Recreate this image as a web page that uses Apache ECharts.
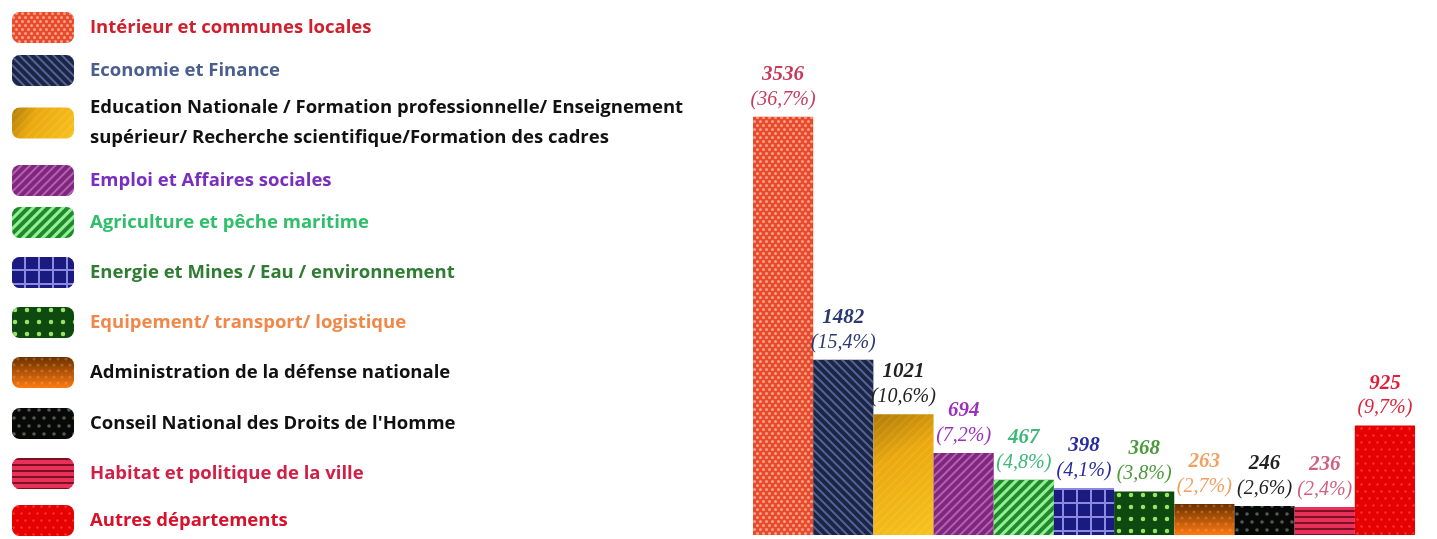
<!DOCTYPE html>
<html>
<head>
<meta charset="utf-8">
<script src="https://cdn.jsdelivr.net/npm/echarts@6/dist/echarts.min.js"></script>
<style>
html,body{margin:0;padding:0;background:#fff;}
#chart{width:1437px;height:539px;}
</style>
</head>
<body>
<div id="chart"></div>
<script>
const categories = [
  'Intérieur et communes locales',
  'Economie et Finance',
  'Education Nationale / Formation professionnelle/ Enseignement\nsupérieur/ Recherche scientifique/Formation des cadres',
  'Emploi et Affaires sociales',
  'Agriculture et pêche maritime',
  'Energie et Mines / Eau / environnement',
  'Equipement/ transport/ logistique',
  'Administration de la défense nationale',
  'Conseil National des Droits de l\'Homme',
  'Habitat et politique de la ville',
  'Autres départements'
];
const values = [3536, 1482, 1021, 694, 467, 398, 368, 263, 246, 236, 925];
const percents = ['36,7%', '15,4%', '10,6%', '7,2%', '4,8%', '4,1%', '3,8%', '2,7%', '2,6%', '2,4%', '9,7%'];

const legendTextColors = ['#d0202e', '#4a5f8f', '#111111', '#7a2ec0', '#2fbf6a', '#2e7d32', '#f0884a', '#111111', '#111111', '#d02048', '#d8102a'];
const labelColors = ['#c83a5c', '#2b3a70', '#222222', '#9a30c0', '#3cb878', '#2a2aa0', '#4a9a3a', '#f0a060', '#222222', '#d06080', '#e0203a'];
const legendTops = [12, 55, 93, 165, 207, 257, 307, 357, 408, 458, 505];

const P = Math.PI / 4;
const styles = [
  { color: '#e84a2c', decal: { symbol: 'circle', symbolSize: 1, color: 'rgba(255,205,185,0.65)', dashArrayX: [[3, 3], [0, 3, 3, 0]], dashArrayY: [3, 1] } },
  { color: '#1c2644', decal: { symbol: 'rect', symbolSize: 1, color: 'rgba(120,140,210,0.6)', rotation: P, dashArrayX: [1, 0], dashArrayY: [2, 4] } },
  { color: { type: 'linear', x: 0, y: 0, x2: 1, y2: 1, colorStops: [{ offset: 0, color: '#b07a05' }, { offset: 0.35, color: '#eaa80e' }, { offset: 1, color: '#f7c21c' }] },
    decal: { symbol: 'rect', symbolSize: 1, color: 'rgba(255,255,255,0.08)', rotation: -P, dashArrayX: [1, 0], dashArrayY: [2, 4] } },
  { color: '#7a2a7a', decal: { symbol: 'rect', symbolSize: 1, color: 'rgba(235,120,220,0.6)', rotation: -P, dashArrayX: [1, 0], dashArrayY: [2, 4] } },
  { color: '#1f8a2a', decal: { symbol: 'rect', symbolSize: 1, color: 'rgba(170,255,170,0.85)', rotation: -P, dashArrayX: [1, 0], dashArrayY: [3, 4] } },
  { color: '#8a8ae0', decal: { symbol: 'rect', symbolSize: 1, color: '#1a1a80', dashArrayX: [12, 2], dashArrayY: [12, 2] } },
  { color: '#0e4a10', decal: { symbol: 'circle', symbolSize: 0.75, color: '#9be26b', dashArrayX: [6, 6], dashArrayY: [6, 6] } },
  { color: { type: 'linear', x: 0, y: 0, x2: 0, y2: 1, colorStops: [{ offset: 0, color: '#6a3000' }, { offset: 1, color: '#ff7a10' }] },
    decal: { symbol: 'circle', symbolSize: 0.8, color: 'rgba(255,200,120,0.25)', dashArrayX: [[4, 4], [0, 4, 4, 0]], dashArrayY: [4, 2] } },
  { color: '#080808', decal: { symbol: 'circle', symbolSize: 0.9, color: 'rgba(110,130,110,0.7)', dashArrayX: [[4, 6], [0, 5, 4, 1]], dashArrayY: [4, 4] } },
  { color: '#e8305a', decal: { symbol: 'rect', symbolSize: 1, color: '#7a1020', dashArrayX: [1, 0], dashArrayY: [2, 4] } },
  { color: '#e60000', decal: { symbol: 'circle', symbolSize: 0.8, color: 'rgba(255,110,110,0.5)', dashArrayX: [[3, 5], [0, 4, 3, 1]], dashArrayY: [3, 4] } }
];

const series = categories.map((name, i) => ({
  name: name,
  type: 'bar',
  stack: 'all',
  barCategoryGap: '0%',
  data: values.map((v, j) => (j === i ? v : '-')),
  itemStyle: Object.assign({ borderRadius: 0 }, styles[i]),
  label: {
    show: true,
    position: 'top',
    distance: 5,
    align: 'center',
    formatter: () => '{v|' + values[i] + '}\n{p|(' + percents[i] + ')}',
    rich: {
      v: { fontFamily: 'Liberation Serif', fontStyle: 'italic', fontWeight: 'bold', fontSize: 21, lineHeight: 25, color: labelColors[i], align: 'center' },
      p: { fontFamily: 'Liberation Serif', fontStyle: 'italic', fontWeight: 'normal', fontSize: 20, lineHeight: 25, color: labelColors[i], align: 'center' }
    }
  },
  emphasis: { disabled: true }
}));

const legends = categories.map((name, i) => ({
  data: [{ name: name, textStyle: { color: legendTextColors[i] } }],
  left: 12,
  top: legendTops[i],
  orient: 'vertical',
  icon: 'roundRect',
  itemWidth: 62,
  itemHeight: 31,
  padding: 0,
  selectedMode: false,
  textStyle: { fontFamily: 'Open Sans', fontWeight: 700, fontSize: 18.5, lineHeight: 30, padding: [0, 0, 0, 11] }
}));

const chart = echarts.init(document.getElementById('chart'), null, { renderer: 'canvas' });
chart.setOption({
  animation: false,
  backgroundColor: '#ffffff',
  legend: legends,
  grid: { left: 753, right: 22, top: 62, bottom: 4 },
  xAxis: { type: 'category', data: categories, show: false },
  yAxis: { type: 'value', min: 0, max: 4000, show: false },
  series: series
});
</script>
</body>
</html>
